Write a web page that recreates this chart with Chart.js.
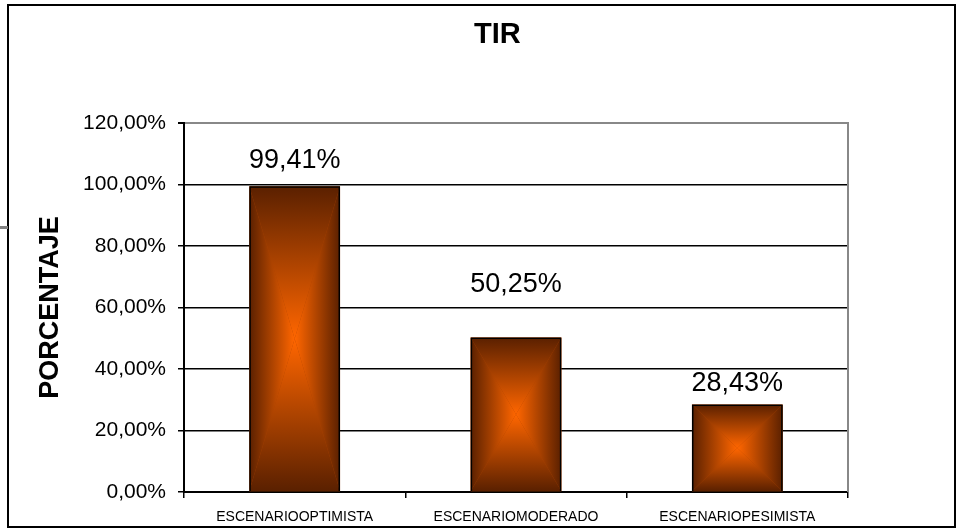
<!DOCTYPE html>
<html><head><meta charset="utf-8">
<script src="https://cdn.jsdelivr.net/npm/chart.js@4.4.0/dist/chart.umd.min.js"></script>
<style>
html,body{margin:0;padding:0;background:#fff;overflow:hidden}
#wrap{position:relative;width:969px;height:530px}
#frame{position:absolute;left:7px;top:4px;width:949px;height:524px;box-sizing:border-box;border:2px solid #000;pointer-events:none}
#mark{position:absolute;left:0;top:226px;width:8px;height:3px;background:#808080}
canvas{position:absolute;left:0;top:0}
</style></head><body>
<div id="wrap"><canvas id="c" width="969" height="530"></canvas><div id="frame"></div><div id="mark"></div></div>
<script>
const categories = ['ESCENARIOOPTIMISTA', 'ESCENARIOMODERADO', 'ESCENARIOPESIMISTA'];
const tirValues = [99.41, 50.25, 28.43];
const yTicks = [0, 20, 40, 60, 80, 100, 120];
const chartTitle = 'TIR';
const yAxisTitle = 'PORCENTAJE';
const labelOffsets = [18, 45, 14];

const FONT = "Arial, 'Liberation Sans', sans-serif";
const EDGE = '#5a2000';
const CENTER = '#ff6600';
const fmt = v => Number(v).toFixed(2).replace('.', ',') + '%';

const gradientBars = {
  id: 'gradientBars',
  beforeDatasetsDraw(chart) {
    const ctx = chart.ctx;
    chart.getDatasetMeta(0).data.forEach(bar => {
      const {x, y, base, width} = bar.getProps(['x', 'y', 'base', 'width'], true);
      const L = x - width / 2, R = x + width / 2;
      const T = Math.min(y, base), B = Math.max(y, base);
      const cx = x, cy = (T + B) / 2;
      ctx.save();
      ctx.fillStyle = '#a84000';
      ctx.fillRect(L, T, R - L, B - T);
      const tri = (p1, p2, x0, y0) => {
        const g = ctx.createLinearGradient(x0, y0, cx, cy);
        g.addColorStop(0, EDGE);
        g.addColorStop(1, CENTER);
        ctx.fillStyle = g;
        ctx.beginPath();
        ctx.moveTo(p1[0], p1[1]);
        ctx.lineTo(p2[0], p2[1]);
        ctx.lineTo(cx, cy);
        ctx.closePath();
        ctx.fill();
      };
      tri([L, T], [R, T], cx, T);
      tri([L, B], [R, B], cx, B);
      tri([L, T], [L, B], L, cy);
      tri([R, T], [R, B], R, cy);
      ctx.restore();
    });
  },
  afterDatasetsDraw(chart) {
    const ctx = chart.ctx;
    const area = chart.chartArea;
    ctx.save();
    ctx.strokeStyle = '#888';
    ctx.lineWidth = 2;
    ctx.beginPath();
    ctx.moveTo(area.right, area.top - 1);
    ctx.lineTo(area.right, area.bottom);
    ctx.stroke();
    ctx.fillStyle = '#000';
    ctx.font = '27px ' + FONT;
    ctx.textAlign = 'center';
    ctx.textBaseline = 'alphabetic';
    chart.getDatasetMeta(0).data.forEach((bar, i) => {
      ctx.fillText(fmt(tirValues[i]), bar.x, bar.y - labelOffsets[i]);
    });
    ctx.font = 'bold 29px ' + FONT;
    ctx.fillText(chartTitle, area.left + (area.right - area.left) * 0.472, 43);
    ctx.restore();
  }
};

new Chart(document.getElementById('c'), {
  type: 'bar',
  data: {
    labels: categories,
    datasets: [{
      data: tirValues,
      backgroundColor: 'rgba(0,0,0,0)',
      borderColor: '#000',
      borderWidth: 1.5,
      categoryPercentage: 1,
      barPercentage: 0.41
    }]
  },
  options: {
    responsive: false,
    animation: false,
    devicePixelRatio: 1,
    layout: {padding: {left: 30, right: 121, top: 123, bottom: 6}},
    plugins: {legend: {display: false}, tooltip: {enabled: false}, title: {display: false}},
    scales: {
      x: {
        grid: {display: true, drawOnChartArea: false, drawTicks: true, tickLength: 6, color: '#000', lineWidth: 1.5, offset: true},
        border: {display: true, color: '#000', width: 2},
        ticks: {font: {family: FONT, size: 14}, color: '#000', padding: 11, maxRotation: 0, autoSkip: false},
        afterFit(s) { s.height = 32; }
      },
      y: {
        min: 0,
        max: 120,
        afterBuildTicks(s) { s.ticks = yTicks.map(v => ({value: v})); },
        grid: {
          color: c => (c.tick && c.tick.value === 120) ? '#888' : '#000',
          lineWidth: c => (c.tick && c.tick.value === 120) ? 2 : 1.5,
          tickColor: '#000',
          tickLength: 6,
          drawTicks: true
        },
        border: {display: true, color: '#000', width: 2},
        ticks: {font: {family: FONT, size: 21}, color: '#000', padding: 12, callback: v => fmt(v)},
        title: {display: true, text: yAxisTitle, font: {family: FONT, size: 27, weight: 'bold'}, color: '#000', padding: {top: 4, bottom: 0}},
        afterFit(s) { s.width = 154; }
      }
    }
  },
  plugins: [gradientBars]
});
</script>
</body></html>
